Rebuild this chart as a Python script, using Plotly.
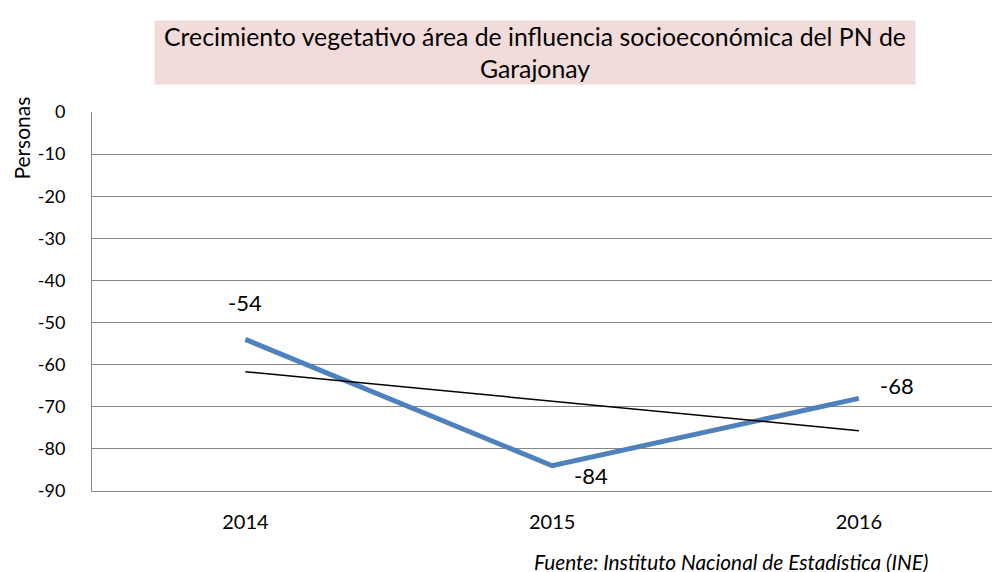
import numpy as np
import plotly.graph_objects as go

years = ["2014", "2015", "2016"]
crecimiento = [-54, -84, -68]
y_ticks = [0, -10, -20, -30, -40, -50, -60, -70, -80, -90]
y_tick_labels = ["0", "-10", "-20", "-30", "-40", "-50", "-60", "-70", "-80", "-90"]

# linear trend line (least squares), as in the original spreadsheet
idx = np.arange(len(years))
slope, intercept = np.polyfit(idx, crecimiento, 1)
tendencia = slope * idx + intercept

fnt = "Lato, Open Sans, sans-serif"

fig = go.Figure()
fig.add_trace(go.Scatter(
    x=years, y=crecimiento, mode="lines",
    line=dict(color="#4f81bd", width=5), showlegend=False, hoverinfo="skip"))
fig.add_trace(go.Scatter(
    x=years, y=tendencia, mode="lines",
    line=dict(color="black", width=1.5), showlegend=False, hoverinfo="skip"))

# data labels (x given as category index)
label_pos = [(0, 37), (39, -10), (38, 13)]
for i, (v, (dx, dy)) in enumerate(zip(crecimiento, label_pos)):
    fig.add_annotation(x=i, y=v, text=str(v), showarrow=False,
                       xshift=dx, yshift=dy, font=dict(size=22, color="black", family=fnt))

fig.add_annotation(xref="paper", yref="paper", x=0.4875, y=1.0, yshift=60,
                   xanchor="center", yanchor="middle",
                   text="Crecimiento vegetativo área de influencia socioeconómica del PN de<br>Garajonay",
                   showarrow=False, bgcolor="#f2dcdb", borderpad=1, width=758,
                   font=dict(size=24.8, color="black", family=fnt))

fig.add_annotation(xref="paper", yref="paper", x=-0.078, y=1.045,
                   text="Personas", textangle=-90, showarrow=False,
                   xanchor="center", yanchor="top",
                   font=dict(size=21, color="black", family=fnt))

fig.add_annotation(xref="paper", yref="paper", x=0.923, y=-0.187,
                   text="<i>Fuente: Instituto Nacional de Estadística (INE)</i>",
                   showarrow=False, xanchor="right", yanchor="middle",
                   font=dict(size=20.8, color="black", family=fnt))

# page body adds an 8px offset, so margins are shifted by that much
fig.update_layout(
    width=1000, height=572,
    margin=dict(l=84, r=8, t=104, b=89),
    paper_bgcolor="white", plot_bgcolor="white",
    font=dict(family=fnt, color="black"),
    xaxis=dict(type="category", range=[-0.5, 2.46], showgrid=False, automargin=False,
               showline=True, linecolor="#868686", linewidth=1,
               ticks="", tickfont=dict(size=20), ticklabelstandoff=13),
    yaxis=dict(range=[-90, 0], tickvals=y_ticks, ticktext=y_tick_labels,
               showgrid=True, automargin=False,
               gridcolor="#868686", gridwidth=1, zeroline=False,
               showline=True, linecolor="#868686", linewidth=1,
               ticks="", tickfont=dict(size=18), ticklabelstandoff=22),
)

fig.write_html("out.html")
